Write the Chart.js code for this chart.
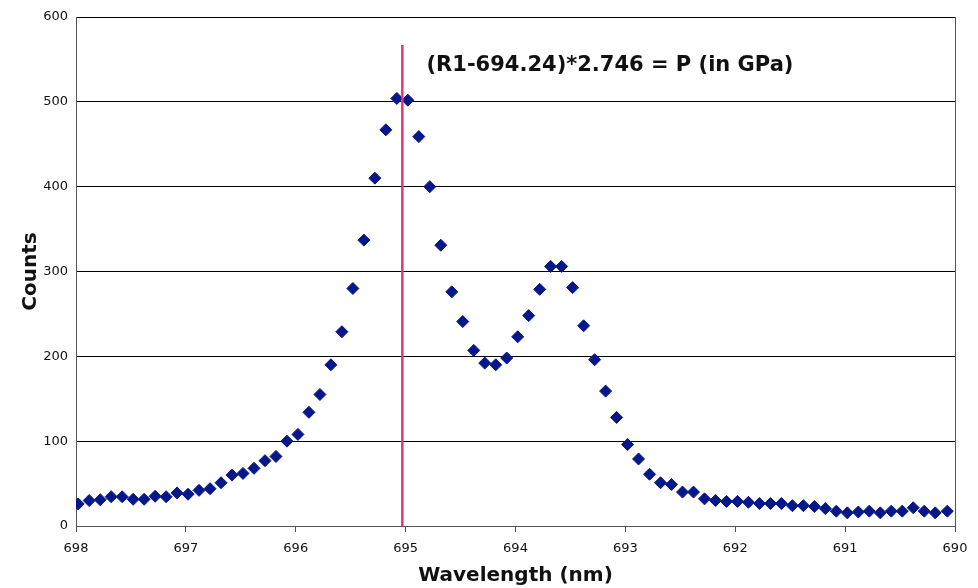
<!DOCTYPE html>
<html>
<head>
<meta charset="utf-8">
<script src="https://cdn.jsdelivr.net/npm/chart.js@4.4.1/dist/chart.umd.min.js"></script>
<style>
  html, body { margin: 0; padding: 0; background: #fff; }
  #wrap { width: 978px; height: 588px; }
</style>
</head>
<body>
<div id="wrap"><canvas id="spectrumChart" width="978" height="588"></canvas></div>
<script>
// Spectrum (wavelength in nm, counts)
const wavelengths = [
    697.98, 697.88, 697.78, 697.68, 697.58, 697.48, 697.38, 697.28, 697.18, 697.08,
    696.98, 696.88, 696.78, 696.68, 696.58, 696.48, 696.38, 696.28, 696.18, 696.08,
    695.98, 695.88, 695.78, 695.68, 695.58, 695.48, 695.38, 695.28, 695.18, 695.08,
    694.98, 694.88, 694.78, 694.68, 694.58, 694.48, 694.38, 694.28, 694.18, 694.08,
    693.98, 693.88, 693.78, 693.68, 693.58, 693.48, 693.38, 693.28, 693.18, 693.08,
    692.98, 692.88, 692.78, 692.68, 692.58, 692.48, 692.38, 692.28, 692.18, 692.08,
    691.98, 691.88, 691.78, 691.68, 691.58, 691.48, 691.38, 691.28, 691.18, 691.08,
    690.98, 690.88, 690.78, 690.68, 690.58, 690.48, 690.38, 690.28, 690.18, 690.07
];
const counts = [
    26, 30, 31, 34.5, 34.5, 31.5, 31.5, 35, 34.5, 39,
    37.5, 42, 44, 51, 60, 62, 68, 77, 82, 100,
    108, 134, 155, 190, 229, 280, 337, 410, 467, 504,
    502, 459, 400, 331, 276, 241, 207, 192, 190, 198,
    223, 248, 279, 306, 306, 281, 236, 196, 159, 128,
    96, 79, 61, 51, 49, 40, 40, 32, 30, 29,
    29, 28, 26.5, 26.5, 26.5, 24, 24, 23, 20.5, 17.5,
    15.5, 16.5, 17.5, 15.5, 17.5, 17.5, 21.5, 17.5, 15.5, 17.5
];

// R1 marker line
const markerX = [695.03, 695.03];
const markerY = [0, 567];

// Annotation
const noteText = '(R1-694.24)*2.746 = P (in GPa)';
const notePos = [694.81, 543];

// Axes
const xRange = [690, 698];
const yRange = [0, 600];

const spectrumPoints = wavelengths.map((w, i) => ({ x: w, y: counts[i] }));
const markerPoints = markerX.map((w, i) => ({ x: w, y: markerY[i] }));

const fontFamily = '"DejaVu Sans", Verdana, sans-serif';

// Draw the formula text in data coordinates
const noteLabel = {
    id: 'noteLabel',
    afterDatasetsDraw(chart) {
        const { ctx, scales } = chart;
        ctx.save();
        ctx.font = 'bold 21px ' + fontFamily;
        ctx.fillStyle = '#111';
        ctx.textAlign = 'left';
        ctx.textBaseline = 'middle';
        ctx.fillText(noteText, scales.x.getPixelForValue(notePos[0]), scales.y.getPixelForValue(notePos[1]));
        ctx.restore();
    }
};

// Right edge of the plot frame
const rightFrame = {
    id: 'rightFrame',
    beforeDatasetsDraw(chart) {
        const { ctx, chartArea } = chart;
        ctx.save();
        ctx.strokeStyle = '#555';
        ctx.lineWidth = 1;
        ctx.beginPath();
        ctx.moveTo(chartArea.right + 0.5, chartArea.top);
        ctx.lineTo(chartArea.right + 0.5, chartArea.bottom);
        ctx.stroke();
        ctx.restore();
    }
};

const ctx = document.getElementById('spectrumChart').getContext('2d');
new Chart(ctx, {
    type: 'scatter',
    data: {
        datasets: [
            {
                label: 'R1',
                data: markerPoints,
                showLine: true,
                borderColor: '#e6337a',
                borderWidth: 2.5,
                pointRadius: 0,
                order: 0
            },
            {
                label: 'Counts',
                data: spectrumPoints,
                pointStyle: 'rectRot',
                pointRadius: 6,
                pointBackgroundColor: '#061789',
                pointBorderColor: '#061789',
                pointBorderWidth: 1,
                order: 1
            }
        ]
    },
    options: {
        responsive: false,
        animation: false,
        layout: { padding: { left: 0, right: 23, top: 17, bottom: 0 } },
        plugins: {
            legend: { display: false },
            tooltip: { enabled: false }
        },
        scales: {
            x: {
                type: 'linear',
                reverse: true,
                min: xRange[0],
                max: xRange[1],
                afterFit(scale) { scale.height = 62; },
                ticks: {
                    stepSize: 1,
                    color: '#111',
                    padding: 9,
                    font: { family: fontFamily, size: 13 }
                },
                grid: {
                    drawOnChartArea: false,
                    drawTicks: true,
                    tickLength: 6,
                    color: '#555'
                },
                border: { color: '#555', width: 1 },
                title: {
                    display: true,
                    text: 'Wavelength (nm)',
                    color: '#111',
                    padding: { top: 0, bottom: 0 },
                    font: { family: fontFamily, size: 20, weight: 'bold' }
                }
            },
            y: {
                min: yRange[0],
                max: yRange[1],
                afterFit(scale) { scale.width = 76; },
                ticks: {
                    stepSize: 100,
                    color: '#111',
                    padding: 8,
                    font: { family: fontFamily, size: 13 }
                },
                grid: {
                    drawTicks: false,
                    color: '#000',
                    lineWidth: 1
                },
                border: { color: '#555', width: 1 },
                title: {
                    display: true,
                    text: 'Counts',
                    color: '#111',
                    padding: { top: 19, bottom: 0 },
                    font: { family: fontFamily, size: 20, weight: 'bold' }
                }
            }
        }
    },
    plugins: [noteLabel, rightFrame]
});
</script>
</body>
</html>
